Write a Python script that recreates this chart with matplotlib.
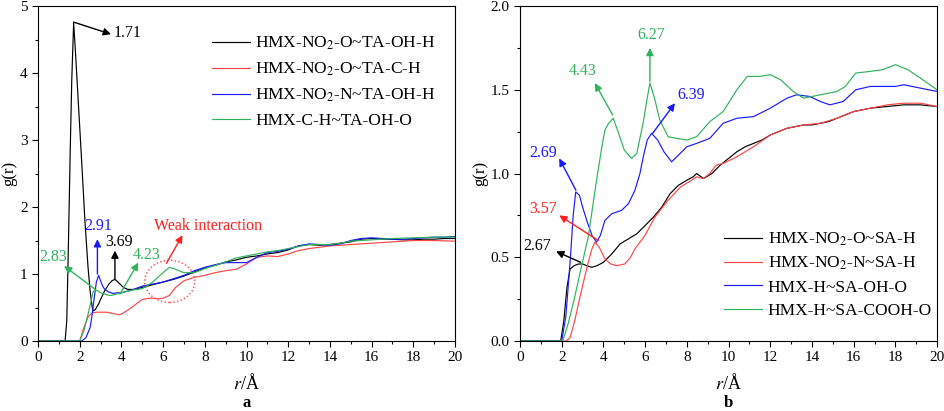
import numpy as np
import matplotlib
matplotlib.use('Agg')
import matplotlib.pyplot as plt
from matplotlib.patches import Ellipse

plt.rcParams['font.family'] = ['Liberation Serif', 'DejaVu Serif']
plt.rcParams['mathtext.fontset'] = 'stix'

# ---- panel a data ----
r_a_black = [0, 1.3, 1.38, 1.45, 1.55, 1.62, 1.71, 1.8, 2.0, 2.1, 2.25, 2.4, 2.5, 2.6, 2.65, 2.75, 2.9, 3.0, 3.2, 3.4, 3.55, 3.69, 3.8, 3.9, 4.1, 4.3, 4.6, 5.0, 5.5, 6.0, 6.5, 7.0, 7.5, 8.0, 8.5, 9.0, 9.5, 10.0, 10.5, 11.0, 11.5, 12.0, 12.5, 13.0, 13.5, 14.0, 14.5, 15.0, 15.5, 16.0, 16.5, 17.0, 17.5, 18.0, 18.5, 19.0, 19.5, 20.0]
g_a_black = [0, 0, 0.3, 1.3, 2.9, 3.9, 4.75, 4.3, 3.2, 2.65, 1.8, 1.1, 0.75, 0.5, 0.45, 0.47, 0.55, 0.62, 0.75, 0.85, 0.9, 0.92, 0.89, 0.86, 0.8, 0.77, 0.77, 0.8, 0.84, 0.88, 0.92, 0.97, 1.03, 1.09, 1.13, 1.18, 1.21, 1.25, 1.27, 1.3, 1.32, 1.36, 1.42, 1.44, 1.43, 1.44, 1.46, 1.48, 1.52, 1.53, 1.52, 1.52, 1.51, 1.51, 1.52, 1.52, 1.53, 1.53]

r_a_red = [0, 2.0, 2.2, 2.4, 2.6, 2.8, 3.0, 3.3, 3.6, 3.9, 4.1, 4.4, 4.7, 5.0, 5.4, 5.8, 6.0, 6.3, 6.6, 7.0, 7.5, 8.0, 8.5, 9.0, 9.5, 10.0, 10.5, 11.0, 11.5, 12.0, 12.5, 13.0, 13.5, 14.0, 15.0, 16.0, 17.0, 18.0, 19.0, 20.0]
g_a_red = [0, 0, 0.2, 0.36, 0.42, 0.43, 0.43, 0.43, 0.41, 0.39, 0.42, 0.48, 0.55, 0.62, 0.64, 0.63, 0.64, 0.68, 0.8, 0.9, 0.95, 0.98, 1.02, 1.05, 1.07, 1.15, 1.25, 1.27, 1.26, 1.3, 1.35, 1.38, 1.4, 1.42, 1.44, 1.46, 1.48, 1.5, 1.5, 1.49]

r_a_blue = [0, 2.1, 2.3, 2.5, 2.6, 2.7, 2.8, 2.91, 3.0, 3.1, 3.2, 3.4, 3.6, 3.8, 4.0, 4.5, 5.0, 5.5, 6.0, 6.5, 7.0, 7.5, 8.0, 8.5, 9.0, 9.5, 10.0, 10.5, 11.0, 11.5, 12.0, 12.5, 13.0, 13.5, 14.0, 14.5, 15.0, 15.5, 16.0, 16.5, 17.0, 17.5, 18.0, 18.5, 19.0, 19.5, 20.0]
g_a_blue = [0, 0, 0.05, 0.2, 0.4, 0.65, 0.88, 0.98, 0.9, 0.82, 0.77, 0.73, 0.71, 0.72, 0.72, 0.76, 0.82, 0.85, 0.88, 0.93, 0.98, 1.05, 1.1, 1.14, 1.17, 1.17, 1.17, 1.25, 1.32, 1.34, 1.37, 1.42, 1.45, 1.44, 1.43, 1.45, 1.5, 1.53, 1.54, 1.53, 1.52, 1.52, 1.53, 1.54, 1.55, 1.55, 1.56]

r_a_green = [0, 2.0, 2.2, 2.4, 2.55, 2.65, 2.8, 3.0, 3.3, 3.5, 4.0, 4.5, 5.0, 5.5, 6.0, 6.3, 6.6, 7.0, 7.5, 8.0, 8.5, 9.0, 9.5, 10.0, 10.5, 11.0, 11.5, 12.0, 12.5, 13.0, 13.5, 14.0, 14.5, 15.0, 16.0, 17.0, 18.0, 19.0, 20.0]
g_a_green = [0, 0, 0.15, 0.4, 0.6, 0.74, 0.76, 0.72, 0.69, 0.68, 0.72, 0.76, 0.78, 0.88, 1.02, 1.1, 1.07, 1.02, 1.02, 1.08, 1.13, 1.18, 1.24, 1.27, 1.3, 1.33, 1.35, 1.38, 1.41, 1.44, 1.44, 1.44, 1.46, 1.49, 1.51, 1.53, 1.54, 1.55, 1.55]

labels_a = ['HMX-NO$_2$-O~TA-OH-H', 'HMX-NO$_2$-O~TA-C-H', 'HMX-NO$_2$-N~TA-OH-H', 'HMX-C-H~TA-OH-O']

# ---- panel b data ----
r_b_black = [0, 1.95, 2.1, 2.25, 2.4, 2.6, 2.8, 3.0, 3.2, 3.44, 3.7, 4.0, 4.4, 4.8, 5.2, 5.6, 6.0, 6.4, 6.8, 7.2, 7.6, 8.0, 8.3, 8.47, 8.8, 9.2, 9.6, 10.0, 10.4, 10.8, 11.2, 11.6, 12.0, 12.4, 12.8, 13.2, 13.6, 14.0, 14.4, 14.8, 15.2, 15.6, 16.0, 16.4, 16.8, 17.6, 18.4, 19.2, 20.0]
g_b_black = [0, 0, 0.12, 0.32, 0.43, 0.45, 0.46, 0.46, 0.45, 0.44, 0.45, 0.47, 0.52, 0.58, 0.61, 0.64, 0.69, 0.74, 0.8, 0.88, 0.93, 0.96, 0.98, 1.0, 0.97, 1.0, 1.05, 1.09, 1.13, 1.16, 1.18, 1.2, 1.23, 1.25, 1.27, 1.28, 1.29, 1.29, 1.3, 1.31, 1.33, 1.35, 1.37, 1.38, 1.39, 1.4, 1.41, 1.41, 1.4]

r_b_red = [0, 2.2, 2.4, 2.64, 2.85, 3.04, 3.27, 3.45, 3.59, 3.8, 4.07, 4.35, 4.63, 5.03, 5.3, 5.51, 5.99, 6.47, 7.1, 7.7, 8.1, 8.47, 8.8, 9.1, 9.4, 9.74, 10.4, 11.2, 12.0, 12.8, 13.6, 14.4, 15.2, 16.0, 16.8, 17.6, 18.4, 19.2, 20.0]
g_b_red = [0, 0, 0.02, 0.13, 0.25, 0.35, 0.47, 0.55, 0.59, 0.56, 0.49, 0.46, 0.45, 0.46, 0.5, 0.55, 0.63, 0.74, 0.84, 0.92, 0.95, 0.98, 0.97, 1.0, 1.05, 1.06, 1.1, 1.16, 1.23, 1.27, 1.29, 1.3, 1.33, 1.37, 1.39, 1.41, 1.42, 1.42, 1.4]

r_b_blue = [0, 2.0, 2.2, 2.4, 2.55, 2.67, 2.85, 3.0, 3.2, 3.45, 3.67, 3.85, 4.07, 4.4, 4.87, 5.2, 5.51, 5.75, 5.91, 6.1, 6.31, 6.6, 6.9, 7.27, 7.6, 8.0, 8.47, 9.1, 9.74, 10.4, 11.2, 12.0, 12.8, 13.26, 13.9, 14.4, 14.86, 15.5, 16.1, 16.8, 17.4, 18.0, 18.4, 19.2, 20.0]
g_b_blue = [0, 0, 0.15, 0.47, 0.75, 0.89, 0.87, 0.8, 0.72, 0.63, 0.59, 0.63, 0.72, 0.76, 0.78, 0.82, 0.9, 1.0, 1.1, 1.2, 1.24, 1.2, 1.13, 1.07, 1.11, 1.16, 1.18, 1.21, 1.3, 1.33, 1.34, 1.39, 1.45, 1.47, 1.46, 1.43, 1.41, 1.43, 1.5, 1.52, 1.52, 1.52, 1.53, 1.51, 1.49]

r_b_green = [0, 2.05, 2.3, 2.6, 2.9, 3.27, 3.67, 3.9, 4.07, 4.25, 4.47, 4.7, 5.0, 5.35, 5.6, 5.9, 6.1, 6.23, 6.45, 6.7, 7.1, 7.5, 8.0, 8.47, 9.1, 9.74, 10.4, 10.9, 11.5, 12.0, 12.5, 13.1, 13.6, 14.4, 15.2, 15.6, 16.1, 16.8, 17.4, 18.0, 18.6, 19.2, 20.0]
g_b_green = [0, 0, 0.1, 0.25, 0.42, 0.62, 0.96, 1.14, 1.26, 1.3, 1.33, 1.25, 1.14, 1.09, 1.12, 1.3, 1.45, 1.54, 1.45, 1.32, 1.22, 1.21, 1.2, 1.22, 1.31, 1.37, 1.5, 1.58, 1.58, 1.59, 1.56, 1.49, 1.45, 1.47, 1.49, 1.52, 1.6, 1.61, 1.62, 1.65, 1.62, 1.57, 1.5]

labels_b = ['HMX-NO$_2$-O~SA-H', 'HMX-NO$_2$-N~SA-H', 'HMX-H~SA-OH-O', 'HMX-H~SA-COOH-O']

colors = ['#000000', '#ff4545', '#1a1aff', '#2eb35a']

fig = plt.figure(figsize=(9.45, 4.11), dpi=100)
ax1 = fig.add_axes([0.0402, 0.1703, 0.4413, 0.815])
ax2 = fig.add_axes([0.5503, 0.1703, 0.4413, 0.815])

lw = 0.85
for (r, g), c, lab in zip([(r_a_black, g_a_black), (r_a_red, g_a_red), (r_a_blue, g_a_blue), (r_a_green, g_a_green)], colors, labels_a):
    ax1.plot(r, g, color=c, lw=lw, label=lab)
for (r, g), c, lab in zip([(r_b_black, g_b_black), (r_b_red, g_b_red), (r_b_blue, g_b_blue), (r_b_green, g_b_green)], colors, labels_b):
    ax2.plot(r, g, color=c, lw=lw, label=lab)

for ax in (ax1, ax2):
    ax.set_xlim(0, 20)
    ax.set_xticks(np.arange(0, 21, 2))
    ax.set_xticks(np.arange(0, 21, 1), minor=True)
    ax.tick_params(which='both', direction='out', labelsize=11, width=0.8)
    ax.tick_params(which='major', length=4)
    ax.tick_params(which='minor', length=2.5)
    for s in ax.spines.values():
        s.set_linewidth(0.8)
    ax.set_xlabel('$r$/Å', fontsize=13, labelpad=6)
    ax.set_ylabel('g(r)', fontsize=12, labelpad=2)

ax1.set_ylim(0, 5)
ax1.set_yticks(np.arange(0, 6, 1))
ax1.set_yticks(np.arange(0, 5.01, 0.5), minor=True)
ax2.set_ylim(0, 2)
ax2.set_yticks(np.arange(0, 2.01, 0.5))
ax2.set_yticklabels(['0.0', '0.5', '1.0', '1.5', '2.0'])
ax2.set_yticks(np.arange(0, 2.01, 0.25), minor=True)

ax1.legend(loc='upper left', bbox_to_anchor=(0.4, 0.935), frameon=False, fontsize=12.5,
           handlelength=2.2, handletextpad=0.3, labelspacing=0.5, borderaxespad=0)
ax2.legend(loc='upper left', bbox_to_anchor=(0.473, 0.35), frameon=False, fontsize=12.5,
           handlelength=2.2, handletextpad=0.3, labelspacing=0.4, borderaxespad=0)

def note(ax, tail, head, text, tpos, color, ha='center'):
    ax.annotate('', xy=head, xytext=tail,
                arrowprops=dict(arrowstyle='-|>', color=color, lw=1.0, mutation_scale=11, shrinkA=0, shrinkB=0))
    ax.text(tpos[0], tpos[1], text, color=color, fontsize=11.5, ha=ha, va='center')

# panel a annotations
note(ax1, (1.71, 4.76), (3.5, 4.58), '1.71', (3.65, 4.6), 'black', ha='left')
note(ax1, (2.85, 1.0), (2.85, 1.52), '2.91', (2.9, 1.71), colors[2])
note(ax1, (3.69, 0.92), (3.69, 1.35), '3.69', (3.87, 1.48), 'black')
note(ax1, (2.75, 0.77), (1.25, 1.12), '2.83', (0.72, 1.25), colors[3])
note(ax1, (3.93, 0.7), (4.81, 1.17), '4.23', (5.2, 1.29), colors[3])
note(ax1, (6.16, 1.16), (6.93, 1.58), 'Weak interaction', (8.16, 1.71), '#ff2020')
ax1.add_patch(Ellipse((6.32, 0.89), 2.4, 0.63, angle=0, fill=False, ec='#ff4545', ls=':', lw=1.0))

# panel b annotations
note(ax2, (6.23, 1.55), (6.23, 1.75), '6.27', (6.31, 1.83), colors[3])
note(ax2, (4.44, 1.35), (3.59, 1.54), '4.43', (3.0, 1.61), colors[3])
note(ax2, (6.36, 1.24), (7.43, 1.42), '6.39', (8.23, 1.47), colors[2])
note(ax2, (2.68, 0.9), (1.88, 1.09), '2.69', (1.12, 1.125), colors[2])
note(ax2, (3.75, 0.6), (1.88, 0.75), '3.57', (1.09, 0.79), '#ff2020')
note(ax2, (2.9, 0.47), (1.73, 0.535), '2.67', (0.8, 0.565), 'black')

fig.text(0.2609, 0.02, 'a', fontsize=12, fontweight='bold', ha='center', va='center')
fig.text(0.7710, 0.02, 'b', fontsize=12, fontweight='bold', ha='center', va='center')

fig.savefig('out.png', dpi=100)
